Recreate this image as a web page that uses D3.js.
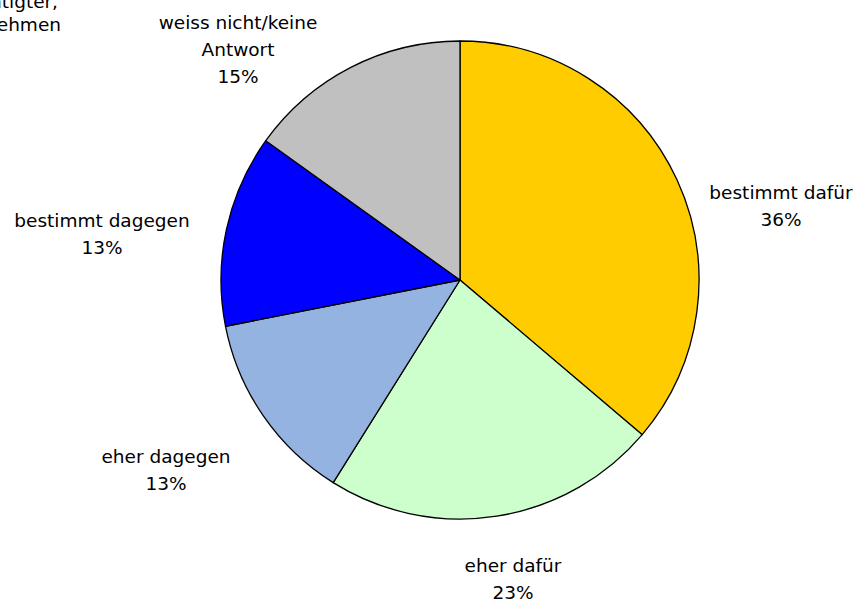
<!DOCTYPE html>
<html>
<head>
<meta charset="utf-8">
<script src="https://cdn.jsdelivr.net/npm/d3@7"></script>
<style>
  body { margin: 0; background: #fff; }
  svg { display: block; }
  .label { font-family: "DejaVu Sans", sans-serif; font-size: 18.5px; fill: #000; }
</style>
</head>
<body>
<svg class="chart"></svg>
<script>
// pie chart, slices clockwise from 12 o'clock
var categories = ["bestimmt dafür", "eher dafür", "eher dagegen", "bestimmt dagegen", "weiss nicht/keine Antwort"];
var values = [36.2, 22.7, 13.0, 13.0, 15.1];
var percentLabels = ["36%", "23%", "13%", "13%", "15%"];
var labelLines = [
	["bestimmt dafür"],
	["eher dafür"],
	["eher dagegen"],
	["bestimmt dagegen"],
	["weiss nicht/keine", "Antwort"]
];
var colors = ["#FFCC00", "#CCFFCC", "#95B3E0", "#0000FF", "#C0C0C0"];

// label anchor points (centre x, first baseline y)
var labelPos = [[781, 199], [513, 572], [166, 463], [102, 227], [238, 29]];

var width = 856;
var height = 601;
var cx = 460, cy = 280, radius = 239;
var lineHeight = 27;

var svg = d3.select(".chart")
	.attr("width", width)
	.attr("height", height);

var pie = d3.pie()
	.sort(null)
	.value(function(d) { return d; });

var arc = d3.arc()
	.innerRadius(0)
	.outerRadius(radius);

var g = svg.append("g")
	.attr("transform", "translate(" + cx + "," + cy + ")");

g.selectAll("path")
	.data(pie(values))
	.enter().append("path")
		.attr("d", arc)
		.attr("fill", function(d, i) { return colors[i]; })
		.attr("stroke", "#000")
		.attr("stroke-width", 1.3)
		.attr("stroke-linejoin", "round");

// data labels
var labels = svg.selectAll(".label")
	.data(categories)
	.enter().append("text")
		.attr("class", "label")
		.attr("text-anchor", "middle");

labels.each(function(d, i) {
	var t = d3.select(this);
	var lines = labelLines[i].concat([percentLabels[i]]);
	lines.forEach(function(line, j) {
		t.append("tspan")
			.attr("x", labelPos[i][0])
			.attr("y", labelPos[i][1] + j * lineHeight)
			.text(line);
	});
});

// label of a further category, cut off at the top left edge
svg.append("text")
	.attr("class", "label")
	.attr("text-anchor", "end")
	.selectAll("tspan")
	.data(["nicht Stimmberechtigter,", "würde nicht teilnehmen"])
	.enter().append("tspan")
		.attr("x", function(d, i) { return i == 0 ? 58 : 61; })
		.attr("y", function(d, i) { return 8 + i * 23; })
		.text(function(d) { return d; });
</script>
</body>
</html>
